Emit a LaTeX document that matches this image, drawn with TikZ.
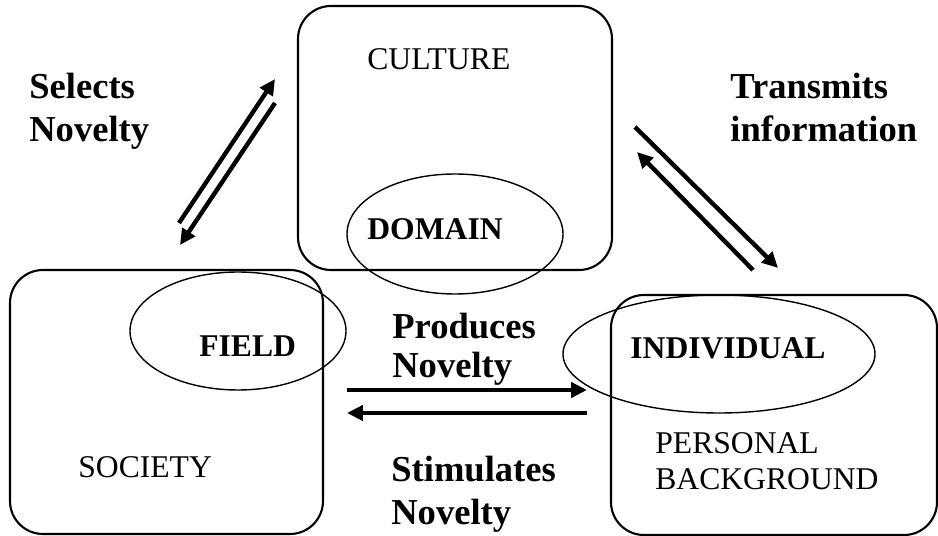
\documentclass[tikz,border=0pt]{standalone}
\usepackage{fontspec}
\setmainfont{Liberation Serif}
\usetikzlibrary{shapes}
\usetikzlibrary{arrows.meta}
\tikzset{
    bigbox/.style = {rectangle, draw=black, line width=1.2pt, rounded corners=0.66cm},
    ovalnode/.style = {ellipse, draw=black, line width=0.8pt},
    boxlabel/.style = {anchor=base west, inner sep=0pt, align=left, font=\fontsize{18}{21}\selectfont},
    innerlabel/.style = {anchor=base west, inner sep=0pt, font=\fontsize{18}{21}\selectfont\bfseries},
    arrowlabel/.style = {anchor=base west, inner sep=0pt, align=left, font=\fontsize{20.8}{24.6}\selectfont\bfseries},
    edgen/.style = {-{Triangle[length=9pt,width=8.5pt]}, line width=2.5pt}
}

\begin{document}
\begin{tikzpicture}
  \useasboundingbox (0,0) rectangle (18.76,-10.72);

  % the three systems
  \node[bigbox, minimum width=6.28cm, minimum height=5.28cm] at (9.10,-2.76) (culture) {};
  \node[bigbox, minimum width=6.26cm, minimum height=5.28cm] at (3.33,-8.04) (society) {};
  \node[bigbox, minimum width=6.52cm, minimum height=4.80cm] at (15.48,-8.30) (person) {};

  \node[ovalnode, minimum width=4.32cm, minimum height=2.40cm] at (9.10,-4.68) (domain) {};
  \node[ovalnode, minimum width=4.32cm, minimum height=2.36cm] at (4.76,-6.62) (field) {};
  \node[ovalnode, minimum width=6.24cm, minimum height=2.36cm] at (14.38,-7.08) (individual) {};

  % labels (base = last line)
  \node[boxlabel] at (7.34,-1.40) (culturetxt) {CULTURE};
  \node[boxlabel] at (1.56,-9.56) (societytxt) {SOCIETY};
  \node[boxlabel] at (13.10,-9.80) (persontxt) {PERSONAL\\BACKGROUND};

  \node[innerlabel] at (7.34,-4.80) (domaintxt) {DOMAIN};
  \node[innerlabel] at (3.98,-7.14) (fieldtxt) {FIELD};
  \node[innerlabel] at (12.60,-7.18) (individualtxt) {INDIVIDUAL};

  \node[arrowlabel] at (0.58,-2.84) (selects) {Selects\\Novelty};
  \node[arrowlabel] at (14.60,-2.84) (transmits) {Transmits\\information};
  \node[arrowlabel] at (7.84,-7.56) (produces) {Produces\\[-2pt]Novelty};
  \node[arrowlabel] at (7.82,-10.50) (stimulates) {Stimulates\\Novelty};

  % arrow ends
  \coordinate (selA) at (3.58,-4.46);
  \coordinate (selB) at (5.50,-1.58);
  \coordinate (selC) at (5.50,-2.06);
  \coordinate (selD) at (3.60,-4.90);
  \coordinate (traA) at (12.70,-2.54);
  \coordinate (traB) at (15.56,-5.36);
  \coordinate (traC) at (15.06,-5.40);
  \coordinate (traD) at (12.74,-3.04);
  \coordinate (proA) at (6.94,-7.80);
  \coordinate (proB) at (11.74,-7.80);
  \coordinate (stiA) at (11.74,-8.26);
  \coordinate (stiB) at (6.94,-8.26);

  \draw[edgen] (selA) -- (selB);
  \draw[edgen] (selC) -- (selD);
  \draw[edgen] (traA) -- (traB);
  \draw[edgen] (traC) -- (traD);
  \draw[edgen] (proA) -- (proB);
  \draw[edgen] (stiA) -- (stiB);
\end{tikzpicture}
\end{document}
